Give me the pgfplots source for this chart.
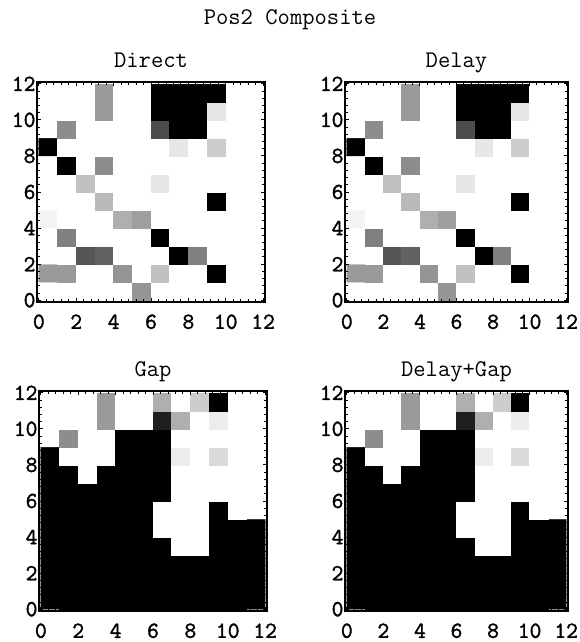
\documentclass[border=0pt]{standalone}
\usepackage{fontspec}
\usepackage{pgfplots}
\usepackage{pgfplotstable}
\pgfplotsset{compat=1.18}

\newfontfamily\tckfont{Latin Modern Mono}[FakeBold=1.6]
\newcommand\ttl{\fontsize{24}{24}\selectfont\ttfamily}
\newcommand\tck{\fontsize{23}{23}\selectfont\tckfont}

% grey level of every cell, 1 = white, 0 = black
\pgfplotstableread[row sep=\\]{
x y c\\
0.5 0.5 1\\ 1.5 0.5 1\\ 2.5 0.5 1\\ 3.5 0.5 1\\ 4.5 0.5 1\\ 5.5 0.5 0.58\\ 6.5 0.5 1\\ 7.5 0.5 1\\ 8.5 0.5 1\\ 9.5 0.5 1\\ 10.5 0.5 1\\ 11.5 0.5 1\\
0.5 1.5 0.6\\ 1.5 1.5 0.6\\ 2.5 1.5 1\\ 3.5 1.5 1\\ 4.5 1.5 0.58\\ 5.5 1.5 1\\ 6.5 1.5 0.75\\ 7.5 1.5 1\\ 8.5 1.5 1\\ 9.5 1.5 0\\ 10.5 1.5 1\\ 11.5 1.5 1\\
0.5 2.5 1\\ 1.5 2.5 1\\ 2.5 2.5 0.33\\ 3.5 2.5 0.38\\ 4.5 2.5 1\\ 5.5 2.5 1\\ 6.5 2.5 1\\ 7.5 2.5 0\\ 8.5 2.5 0.5\\ 9.5 2.5 1\\ 10.5 2.5 1\\ 11.5 2.5 1\\
0.5 3.5 1\\ 1.5 3.5 0.5\\ 2.5 3.5 1\\ 3.5 3.5 1\\ 4.5 3.5 1\\ 5.5 3.5 1\\ 6.5 3.5 0\\ 7.5 3.5 1\\ 8.5 3.5 1\\ 9.5 3.5 1\\ 10.5 3.5 1\\ 11.5 3.5 1\\
0.5 4.5 0.95\\ 1.5 4.5 1\\ 2.5 4.5 1\\ 3.5 4.5 1\\ 4.5 4.5 0.68\\ 5.5 4.5 0.62\\ 6.5 4.5 1\\ 7.5 4.5 1\\ 8.5 4.5 1\\ 9.5 4.5 1\\ 10.5 4.5 1\\ 11.5 4.5 1\\
0.5 5.5 1\\ 1.5 5.5 1\\ 2.5 5.5 1\\ 3.5 5.5 0.72\\ 4.5 5.5 1\\ 5.5 5.5 1\\ 6.5 5.5 1\\ 7.5 5.5 1\\ 8.5 5.5 1\\ 9.5 5.5 0\\ 10.5 5.5 1\\ 11.5 5.5 1\\
0.5 6.5 1\\ 1.5 6.5 1\\ 2.5 6.5 0.75\\ 3.5 6.5 1\\ 4.5 6.5 1\\ 5.5 6.5 1\\ 6.5 6.5 0.9\\ 7.5 6.5 1\\ 8.5 6.5 1\\ 9.5 6.5 1\\ 10.5 6.5 1\\ 11.5 6.5 1\\
0.5 7.5 1\\ 1.5 7.5 0\\ 2.5 7.5 1\\ 3.5 7.5 0.55\\ 4.5 7.5 1\\ 5.5 7.5 1\\ 6.5 7.5 1\\ 7.5 7.5 1\\ 8.5 7.5 1\\ 9.5 7.5 1\\ 10.5 7.5 1\\ 11.5 7.5 1\\
0.5 8.5 0\\ 1.5 8.5 1\\ 2.5 8.5 1\\ 3.5 8.5 1\\ 4.5 8.5 1\\ 5.5 8.5 1\\ 6.5 8.5 1\\ 7.5 8.5 0.9\\ 8.5 8.5 1\\ 9.5 8.5 0.8\\ 10.5 8.5 1\\ 11.5 8.5 1\\
0.5 9.5 1\\ 1.5 9.5 0.55\\ 2.5 9.5 1\\ 3.5 9.5 1\\ 4.5 9.5 1\\ 5.5 9.5 1\\ 6.5 9.5 0.3\\ 7.5 9.5 0\\ 8.5 9.5 0\\ 9.5 9.5 1\\ 10.5 9.5 1\\ 11.5 9.5 1\\
0.5 10.5 1\\ 1.5 10.5 1\\ 2.5 10.5 1\\ 3.5 10.5 0.6\\ 4.5 10.5 1\\ 5.5 10.5 1\\ 6.5 10.5 0\\ 7.5 10.5 0\\ 8.5 10.5 0\\ 9.5 10.5 0.9\\ 10.5 10.5 1\\ 11.5 10.5 1\\
0.5 11.5 1\\ 1.5 11.5 1\\ 2.5 11.5 1\\ 3.5 11.5 0.6\\ 4.5 11.5 1\\ 5.5 11.5 1\\ 6.5 11.5 0\\ 7.5 11.5 0\\ 8.5 11.5 0\\ 9.5 11.5 0\\ 10.5 11.5 1\\ 11.5 11.5 1\\
}\direct

\pgfplotstableread[row sep=\\]{
x y c\\
0.5 0.5 0\\ 1.5 0.5 0\\ 2.5 0.5 0\\ 3.5 0.5 0\\ 4.5 0.5 0\\ 5.5 0.5 0\\ 6.5 0.5 0\\ 7.5 0.5 0\\ 8.5 0.5 0\\ 9.5 0.5 0\\ 10.5 0.5 0\\ 11.5 0.5 0\\
0.5 1.5 0\\ 1.5 1.5 0\\ 2.5 1.5 0\\ 3.5 1.5 0\\ 4.5 1.5 0\\ 5.5 1.5 0\\ 6.5 1.5 0\\ 7.5 1.5 0\\ 8.5 1.5 0\\ 9.5 1.5 0\\ 10.5 1.5 0\\ 11.5 1.5 0\\
0.5 2.5 0\\ 1.5 2.5 0\\ 2.5 2.5 0\\ 3.5 2.5 0\\ 4.5 2.5 0\\ 5.5 2.5 0\\ 6.5 2.5 0\\ 7.5 2.5 0\\ 8.5 2.5 0\\ 9.5 2.5 0\\ 10.5 2.5 0\\ 11.5 2.5 0\\
0.5 3.5 0\\ 1.5 3.5 0\\ 2.5 3.5 0\\ 3.5 3.5 0\\ 4.5 3.5 0\\ 5.5 3.5 0\\ 6.5 3.5 0\\ 7.5 3.5 1\\ 8.5 3.5 1\\ 9.5 3.5 0\\ 10.5 3.5 0\\ 11.5 3.5 0\\
0.5 4.5 0\\ 1.5 4.5 0\\ 2.5 4.5 0\\ 3.5 4.5 0\\ 4.5 4.5 0\\ 5.5 4.5 0\\ 6.5 4.5 1\\ 7.5 4.5 1\\ 8.5 4.5 1\\ 9.5 4.5 0\\ 10.5 4.5 0\\ 11.5 4.5 0\\
0.5 5.5 0\\ 1.5 5.5 0\\ 2.5 5.5 0\\ 3.5 5.5 0\\ 4.5 5.5 0\\ 5.5 5.5 0\\ 6.5 5.5 1\\ 7.5 5.5 1\\ 8.5 5.5 1\\ 9.5 5.5 0\\ 10.5 5.5 1\\ 11.5 5.5 1\\
0.5 6.5 0\\ 1.5 6.5 0\\ 2.5 6.5 0\\ 3.5 6.5 0\\ 4.5 6.5 0\\ 5.5 6.5 0\\ 6.5 6.5 0\\ 7.5 6.5 1\\ 8.5 6.5 1\\ 9.5 6.5 1\\ 10.5 6.5 1\\ 11.5 6.5 1\\
0.5 7.5 0\\ 1.5 7.5 0\\ 2.5 7.5 1\\ 3.5 7.5 0\\ 4.5 7.5 0\\ 5.5 7.5 0\\ 6.5 7.5 0\\ 7.5 7.5 1\\ 8.5 7.5 1\\ 9.5 7.5 1\\ 10.5 7.5 1\\ 11.5 7.5 1\\
0.5 8.5 0\\ 1.5 8.5 1\\ 2.5 8.5 1\\ 3.5 8.5 1\\ 4.5 8.5 0\\ 5.5 8.5 0\\ 6.5 8.5 0\\ 7.5 8.5 0.92\\ 8.5 8.5 1\\ 9.5 8.5 0.85\\ 10.5 8.5 1\\ 11.5 8.5 1\\
0.5 9.5 1\\ 1.5 9.5 0.55\\ 2.5 9.5 1\\ 3.5 9.5 1\\ 4.5 9.5 0\\ 5.5 9.5 0\\ 6.5 9.5 0\\ 7.5 9.5 1\\ 8.5 9.5 1\\ 9.5 9.5 1\\ 10.5 9.5 1\\ 11.5 9.5 1\\
0.5 10.5 1\\ 1.5 10.5 1\\ 2.5 10.5 1\\ 3.5 10.5 0.6\\ 4.5 10.5 1\\ 5.5 10.5 1\\ 6.5 10.5 0.12\\ 7.5 10.5 0.68\\ 8.5 10.5 1\\ 9.5 10.5 0.92\\ 10.5 10.5 1\\ 11.5 10.5 1\\
0.5 11.5 1\\ 1.5 11.5 1\\ 2.5 11.5 1\\ 3.5 11.5 0.6\\ 4.5 11.5 1\\ 5.5 11.5 1\\ 6.5 11.5 0.68\\ 7.5 11.5 1\\ 8.5 11.5 0.8\\ 9.5 11.5 0\\ 10.5 11.5 1\\ 11.5 11.5 1\\
}\gap

\pgfplotsset{
  panel/.style={
    scale only axis, width=228bp, height=220bp, anchor=south west,
    xmin=-0.1, xmax=12.1, ymin=-0.1, ymax=12.1,
    xtick={0,2,...,12}, ytick={0,2,...,12},
    minor tick num=4, tick align=inside,
    major tick length=4bp, minor tick length=3bp,
    axis line style={line width=1.6bp},
    tick style={black, line width=0.9bp},
    colormap={bw}{gray(0cm)=(0); gray(1cm)=(1)},
    point meta min=0, point meta max=1,
    /pgf/number format/assume math mode=true,
    tick label style={font=\tck},
    xticklabel style={yshift=-9bp},
    yticklabel style={xshift=2bp},
    title style={font=\ttl, at={(0.5,1)}, anchor=base, yshift=9bp},
    axis on top,
  },
  cells/.style={matrix plot*, mesh/cols=12, mesh/rows=12, point meta=explicit},
}

\begin{document}
\begin{tikzpicture}
\path[use as bounding box] (0bp,0bp) rectangle (580bp,642bp);
\node[font=\ttl, anchor=base] at (290bp,617bp) {Pos2 Composite};

\begin{axis}[panel, at={(37bp,340bp)}, title={Direct}]
\addplot[cells] table[meta=c] {\direct};
\end{axis}

% Delay shows the same picture as Direct
\begin{axis}[panel, at={(345bp,340bp)}, width=223bp, title={Delay}]
\addplot[cells] table[meta=c] {\direct};
\end{axis}

\begin{axis}[panel, at={(39bp,31bp)}, title={Gap}]
\addplot[cells] table[meta=c] {\gap};
\end{axis}

% Delay+Gap shows the same picture as Gap
\begin{axis}[panel, at={(345bp,31bp)}, width=223bp, title={Delay+Gap}]
\addplot[cells] table[meta=c] {\gap};
\end{axis}
\end{tikzpicture}
\end{document}
